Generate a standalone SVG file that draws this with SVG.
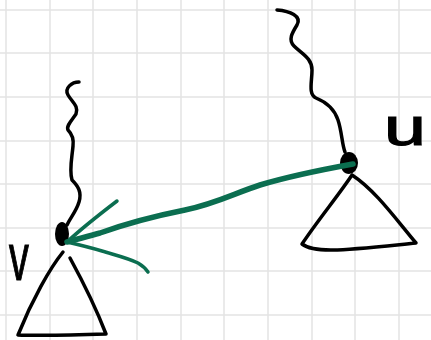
<svg xmlns="http://www.w3.org/2000/svg" width="431" height="340" viewBox="0 0 431 340">
<style>
.grid line{stroke:#e3e3e3;stroke-width:1.5}
.ink{fill:none;stroke:#000;stroke-width:3.5;stroke-linecap:round;stroke-linejoin:round}
.blob{fill:#000}
.lbl{font-family:"Liberation Sans",sans-serif;fill:#000;stroke:#000;stroke-width:1.2}
.edge{fill:none;stroke:#0b6e50;stroke-linecap:round;stroke-linejoin:round}
</style>
<rect width="431" height="340" fill="#fff"/>
<g class="grid">
<line x1="6" y1="0" x2="6" y2="340"/><line x1="50" y1="0" x2="50" y2="340"/><line x1="93" y1="0" x2="93" y2="340"/><line x1="137" y1="0" x2="137" y2="340"/><line x1="181" y1="0" x2="181" y2="340"/><line x1="224" y1="0" x2="224" y2="340"/><line x1="268" y1="0" x2="268" y2="340"/><line x1="312" y1="0" x2="312" y2="340"/><line x1="355" y1="0" x2="355" y2="340"/><line x1="399" y1="0" x2="399" y2="340"/>
<line x1="0" y1="10" x2="431" y2="10"/><line x1="0" y1="53" x2="431" y2="53"/><line x1="0" y1="97" x2="431" y2="97"/><line x1="0" y1="141" x2="431" y2="141"/><line x1="0" y1="184" x2="431" y2="184"/><line x1="0" y1="228" x2="431" y2="228"/><line x1="0" y1="271" x2="431" y2="271"/><line x1="0" y1="315" x2="431" y2="315"/>
</g>
<g id="node-u">
<path class="ink" d="M277,10 C290,11 302,16 297,25 C292,33 288,40 294,46 C302,54 312,58 312,70 C312,82 308,94 316,98 C326,102 334,108 338,120 C342,132 342,145 345,152"/>
<path class="ink" d="M352,175 C338,196 318,220 302,244 C315,254 345,250 416,243 C395,218 375,190 352,175"/>
<ellipse class="blob" cx="349" cy="163" rx="9" ry="11"/>
<text class="lbl" x="0" y="0" font-size="52" transform="translate(384,145) scale(1.45,1)">u</text>
</g>
<g id="node-v">
<path class="ink" d="M79,82 C72,82 64,88 68,95 C72,102 79,106 76,114 C72,120 66,126 68,130 C72,134 74,138 73,146 C72,158 69,170 72,180 C78,186 82,192 79,202 C76,212 70,218 67,225"/>
<path class="ink" d="M63,252 C50,268 32,300 18,335 C40,336 70,335 106,334 C96,308 82,280 70,258"/>
<ellipse class="blob" cx="62" cy="234" rx="7" ry="12"/>
<text class="lbl" x="0" y="0" font-size="66" transform="translate(9,280) scale(0.6,1)">v</text>
</g>
<g id="connectors">
<path class="edge" stroke-width="5.5" d="M353,164 C320,170 290,176 260,185 C235,193 215,204 185,210 C155,216 125,224 100,233 C85,237 75,240 67,242"/>
<path class="edge" stroke-width="3.5" d="M117,201 C100,214 82,228 67,242 C80,245 92,248 102,251 C115,255 128,258 138,263 C143,266 146,269 148,272"/>
</g>
</svg>
